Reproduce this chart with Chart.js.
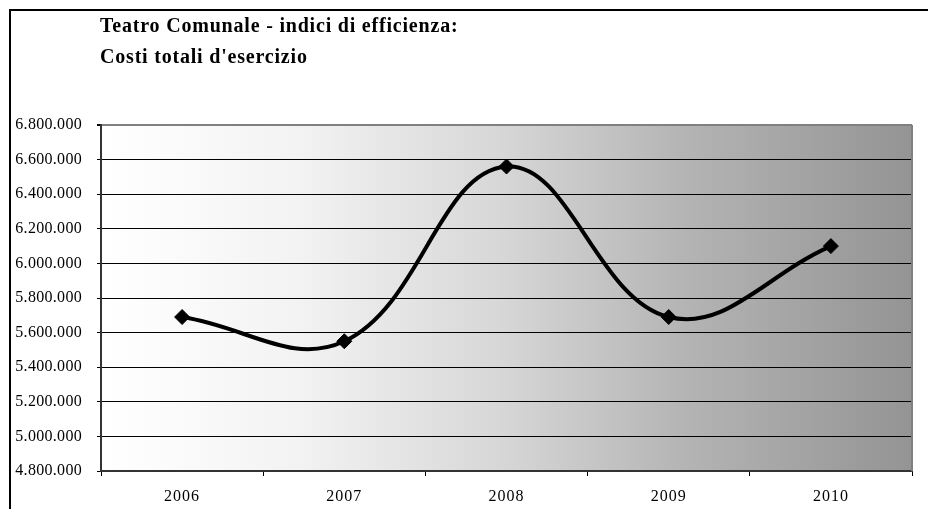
<!DOCTYPE html>
<html>
<head>
<meta charset="utf-8">
<script src="https://cdn.jsdelivr.net/npm/chart.js@4"></script>
<style>
  html, body { margin: 0; padding: 0; background: #fff; }
  #wrap { width: 928px; height: 509px; }
</style>
</head>
<body>
<div id="wrap"><canvas id="chart" width="928" height="509"></canvas></div>
<script>
// dati
const anni = ["2006", "2007", "2008", "2009", "2010"]
const costi = [5690000, 5550000, 6560000, 5690000, 6100000]
const yMin = 4800000
const yMax = 6800000
const yStep = 200000
const titolo = ["Teatro Comunale - indici di efficienza:", "Costi totali d'esercizio"]

function puntini(v) {
    return String(v).replace(/\B(?=(\d{3})+(?!\d))/g, ".")
}

// le etichette dell'originale sono un po' spaziate
function spaziatura(scale, sp) {
    if (scale._spaziata) return
    const orig = scale.drawLabels
    scale.drawLabels = function (area) {
        const ctx = this.ctx
        const prima = ctx.letterSpacing
        ctx.letterSpacing = sp
        orig.call(this, area)
        ctx.letterSpacing = prima
    }
    scale._spaziata = true
}

// sfondo sfumato, cornice e titolo
const sfondo = {
    id: "sfondo",
    beforeDraw(chart) {
        spaziatura(chart.scales.x, "1px")
        spaziatura(chart.scales.y, "0.3px")

        const ctx = chart.ctx
        const a = chart.chartArea
        ctx.save()
        const g = ctx.createLinearGradient(a.left, 0, a.right, 0)
        g.addColorStop(0, "#ffffff")
        g.addColorStop(0.07, "#fcfcfc")
        g.addColorStop(0.25, "#f2f2f2")
        g.addColorStop(0.5, "#d6d6d6")
        g.addColorStop(0.72, "#b4b4b4")
        g.addColorStop(1, "#949494")
        ctx.fillStyle = g
        ctx.fillRect(a.left, a.top, a.right - a.left, a.bottom - a.top)

        ctx.fillStyle = "#000"
        ctx.fillRect(9, 9, 919, 2)
        ctx.fillRect(9, 9, 2, 500)

        ctx.font = "bold 20px 'Liberation Serif'"
        ctx.letterSpacing = "0.8px"
        ctx.textBaseline = "alphabetic"
        ctx.textAlign = "left"
        ctx.fillText(titolo[0], 100, 32)
        ctx.fillText(titolo[1], 100, 63)
        ctx.restore()
    },
    beforeDatasetsDraw(chart) {
        const ctx = chart.ctx
        const a = chart.chartArea
        ctx.save()
        ctx.strokeStyle = "#808080"
        ctx.lineWidth = 2
        ctx.beginPath()
        ctx.moveTo(a.right, a.top)
        ctx.lineTo(a.right, a.bottom)
        ctx.stroke()
        ctx.restore()
    }
}

Chart.defaults.font.family = "'Liberation Serif', 'Times New Roman', serif"
Chart.defaults.color = "#000"

new Chart(document.getElementById("chart"), {
    type: "line",
    data: {
        labels: anni,
        datasets: [{
            label: "Costi totali d'esercizio",
            data: costi,
            borderColor: "#000",
            borderWidth: 4,
            tension: 0.4,
            pointStyle: "rectRot",
            pointRadius: 7.5,
            pointBackgroundColor: "#000",
            pointBorderColor: "#000",
            pointBorderWidth: 1
        }]
    },
    options: {
        responsive: false,
        animation: false,
        layout: { padding: { top: 125, right: 16, bottom: 0, left: 0 } },
        plugins: {
            legend: { display: false },
            tooltip: { enabled: false },
            title: { display: false }
        },
        scales: {
            x: {
                offset: true,
                afterFit: (s) => { s.height = 38 },
                grid: { offset: true, drawOnChartArea: false, tickLength: 5, color: "#000" },
                border: { color: "#333", width: 2 },
                ticks: { font: { size: 16 }, padding: 11, color: "#000" }
            },
            y: {
                min: yMin,
                max: yMax,
                afterFit: (s) => { s.width = 101 },
                grid: {
                    color: (c) => (c.tick && c.tick.value === yMax) ? "#808080" : "#000",
                    lineWidth: (c) => (c.tick && c.tick.value === yMax) ? 2 : 1,
                    tickColor: "#000",
                    tickLength: 4
                },
                border: { color: "#333", width: 2 },
                ticks: {
                    stepSize: yStep,
                    padding: 15,
                    font: { size: 16 },
                    color: "#000",
                    callback: (v) => puntini(v)
                }
            }
        }
    },
    plugins: [sfondo]
})
</script>
</body>
</html>
